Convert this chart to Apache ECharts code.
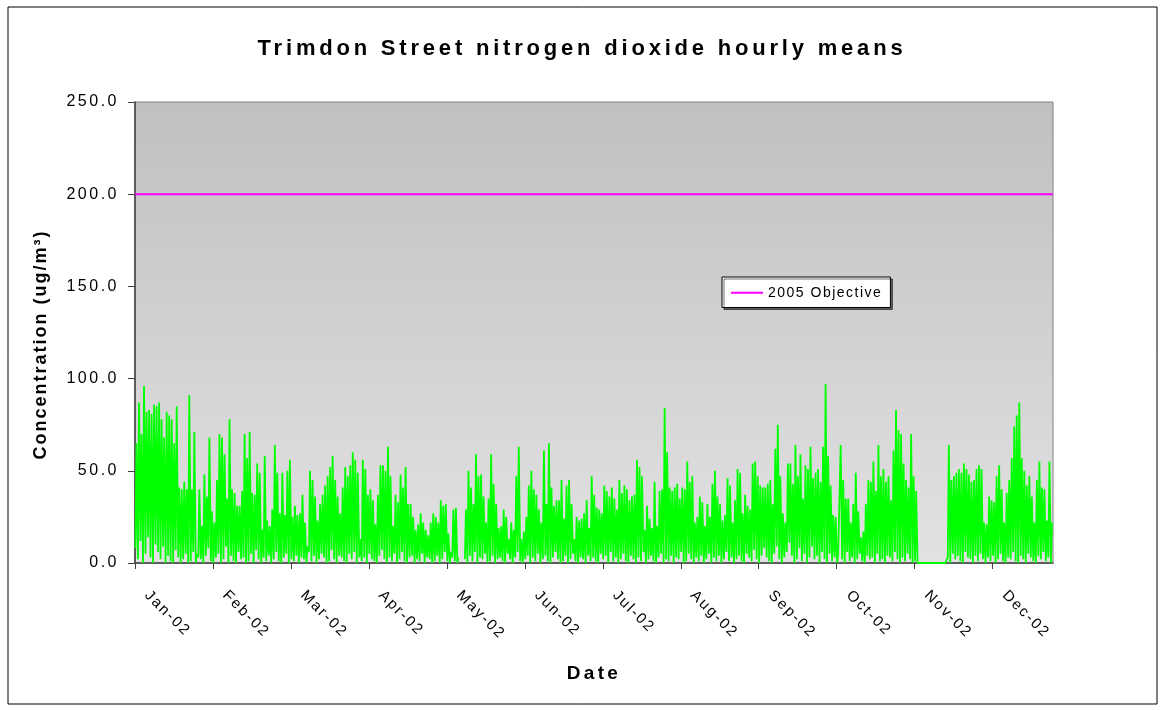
<!DOCTYPE html>
<html>
<head>
<meta charset="utf-8">
<script src="https://cdn.jsdelivr.net/npm/echarts@6/dist/echarts.min.js"></script>
<style>
  html, body { margin: 0; padding: 0; background: #fff; }
  #chart { width: 1164px; height: 710px; }
</style>
</head>
<body>
<div id="chart"></div>
<script>
// x axis labels, one every 31 days (744 hours) as in the source sheet
const tickLabels = ['Jan-02', 'Feb-02', 'Mar-02', 'Apr-02', 'May-02', 'Jun-02',
  'Jul-02', 'Aug-02', 'Sep-02', 'Oct-02', 'Nov-02', 'Dec-02'];
const hoursPerTick = 744;
const hoursInYear = 8760;
const objective = 200;

// daily highest hourly mean (ug/m3); null = no data
const dailyMax = [
  65, 87, 70, 96, 82, 83, 81, 86, 85, 87,
  78, 68, 82, 80, 78, 65, 85, 41, 40, 44,
  40, 91, 40, 71, 5, 40, 20, 48, 36, 68,
  28, 22, 45, 70, 68, 59, 35, 78, 40, 38,
  31, 31, 39, 70, 57, 71, 38, 37, 54, 49,
  18, 58, 23, 20, 29, 64, 49, 27, 49, 26,
  50, 56, 25, 31, 26, 27, 37, 22, 9, 50,
  45, 36, 23, 32, 37, 42, 47, 52, 58, 45,
  36, 27, 41, 52, 47, 53, 60, 56, 49, 13,
  56,
  51, 37, 40, 34, 21, 37, 53, 53, 50, 63,
  47, 20, 37, 33, 48, 41, 52, 32, 32, 25,
  18, 21, 27, 22, 18, 15, 22, 27, 25, 22,
  34, 31, 32, 16, 6, 29, 30, 3,
  null, null,
  29, 50, 41, 32, 59, 47, 48, 36, 22, 35,
  59, 43, 32, 19, 20, 29, 25, 13, 22, 18,
  47, 63, 13, 17, 25, 42, 50, 40, 37, 29,
  22, 61, 32, 65, 41, 31, 34, 34, 45, 24,
  42, 45, 32, 13, 25, 23, 24, 27, 34, 19,
  47,
  37, 30, 29, 27, 42, 39, 36, 41, 35, 29,
  45, 38, 42, 40, 34, 36, 37, 56, 52, 47,
  18, 31, 24, 19, 44, 20, 39, 40, 84, 60,
  41, 39, 41, 43, 35, 41, 40, 55, 44, 47,
  22, 25, 36, 33, 20, 32, 25, 43, 50, 36,
  32, 23, 26, 46, 42, 22, 34, 51, 49, 27,
  37, 31, 29, 54, 55, 47, 42, 41, 41, 43,
  45, 32, 62, 75, 47, 27, 22, 54, 54, 43,
  64, 47, 59, 35, 53, 51, 63, 46, 49, 51,
  44, 63,
  97, 58, 42, 26, 25, 5, 64, 45, 35, 35,
  22, 32, 49, 28, 14, 17, 32, 45, 44, 55,
  39, 64, 47, 51, 44, 47, 34, 61, 83, 72,
  70, 54, 45, 41, 70, 47, 39,
  0, 0, 0, 0, 0, 0, 0, 0, 0, 0, 0, 0,
  64, 45, 47, 49, 51, 49, 54, 51, 48, 44,
  45, 51, 53, 51, 22, 21, 36, 34, 33, 47,
  53, 40, 22, 38, 45, 57, 74, 80, 87, 57,
  50, 42, 47, 36, 22, 45, 55, 41, 40, 23,
  55, 22
];

// daily lowest hourly mean (ug/m3)
const dailyMin = [
  8, 2, 12, 0, 5, 14, 3, 0, 10, 6,
  2, 9, 0, 4, 1, 0, 7, 3, 0, 2,
  5, 0, 1, 6, 0, 3, 2, 0, 4, 8,
  1, 0, 3, 5, 0, 2, 9, 0, 4, 1,
  0, 6, 2, 3, 0, 1, 5, 0, 7, 2,
  0, 3, 1, 4, 0, 2, 6, 1, 0, 3,
  5, 0, 2, 1, 4, 0, 3, 2, 0, 6,
  1, 4, 0, 2, 5, 3, 0, 1, 7, 2,
  0, 4, 3, 1, 0, 5, 2, 6, 0, 3,
  1,
  3, 0, 5, 2, 1, 0, 4, 7, 2, 0,
  3, 1, 5, 0, 2, 6, 1, 0, 3, 4,
  0, 2, 1, 5, 0, 3, 2, 0, 1, 4,
  0, 2, 6, 1, 0, 3, 1, 0,
  null, null,
  2, 0, 4, 1, 6, 0, 3, 2, 5, 0,
  1, 4, 0, 2, 3, 1, 0, 5, 2, 0,
  3, 6, 1, 0, 2, 4, 0, 3, 1, 5,
  0, 2, 4, 1, 0, 3, 6, 2, 0, 1,
  4, 0, 2, 5, 1, 0, 3, 2, 0, 4,
  1,
  3, 1, 0, 5, 2, 4, 0, 6, 1, 3,
  0, 2, 5, 1, 0, 4, 2, 0, 3, 1,
  6, 0, 2, 4, 1, 0, 3, 5, 0, 2,
  1, 4, 0, 3, 2, 6, 0, 1, 5, 2,
  0, 3, 1, 4, 0, 2, 5, 0, 3, 1,
  4, 0, 2, 6, 1, 3, 0, 2, 4, 1,
  0, 5, 3, 1, 7, 2, 0, 4, 8, 3,
  1, 0, 5, 9, 2, 0, 3, 6, 11, 4,
  0, 2, 8, 1, 5, 0, 3, 9, 2, 4,
  0, 6,
  2, 0, 5, 1, 3, 0, 4, 2, 0, 6,
  1, 3, 0, 2, 5, 1, 0, 4, 2, 3,
  0, 5, 1, 2, 0, 4, 3, 1, 6, 2,
  0, 3, 1, 5, 2, 0, 1,
  0, 0, 0, 0, 0, 0, 0, 0, 0, 0, 0, 0,
  3, 0, 5, 2, 4, 1, 0, 6, 3, 2,
  0, 4, 1, 5, 2, 0, 3, 1, 4, 0,
  2, 5, 1, 0, 3, 2, 6, 1, 0, 4,
  2, 0, 5, 3, 1, 0, 4, 2, 6, 1,
  3, 0
];

// each day: low in the early hours, high in the afternoon
const hourly = [];
dailyMax.forEach((hi, d) => {
  const lo = dailyMin[d];
  hourly.push([d * 24 + 4, lo == null ? '-' : lo]);
  hourly.push([d * 24 + 14, hi == null ? '-' : hi]);
});

const tickHours = tickLabels.map((t, i) => i * hoursPerTick);

// the old spreadsheet spreads its letters out; mimic it per font size
const spacing = { b22: '3.8px', b19: '3.3px', b18: '2px', n16: '2.5px', n15: '2px', n14: '1.5px' };
const ctxProto = CanvasRenderingContext2D.prototype;
['fillText', 'measureText'].forEach(fn => {
  const orig = ctxProto[fn];
  ctxProto[fn] = function () {
    const m = /(\d+(\.\d+)?)px/.exec(this.font);
    const key = (/bold/.test(this.font) ? 'b' : 'n') + (m ? Math.round(m[1]) : '');
    this.letterSpacing = spacing[key] || '0px';
    return orig.apply(this, arguments);
  };
});

const chart = echarts.init(document.getElementById('chart'));
chart.setOption({
  animation: false,
  backgroundColor: '#fff',
  textStyle: { fontFamily: 'Liberation Sans, Arial, sans-serif', color: '#000' },
  title: {
    text: 'Trimdon Street nitrogen dioxide hourly means',
    left: 'center',
    top: 31,
    textStyle: { fontSize: 22, fontWeight: 'bold', color: '#000' }
  },
  legend: {
    data: ['2005 Objective'],
    left: 722,
    top: 277,
    icon: 'rect',
    itemWidth: 32,
    itemHeight: 2,
    itemGap: 6,
    padding: [8, 8, 7, 9],
    backgroundColor: '#fff',
    borderColor: '#000',
    borderWidth: 1,
    shadowColor: 'rgba(0,0,0,0.55)',
    shadowOffsetX: 2,
    shadowOffsetY: 2,
    shadowBlur: 0,
    textStyle: { fontSize: 14, color: '#000' }
  },
  grid: {
    left: 135,
    right: 111,
    top: 102,
    bottom: 147,
    show: true,
    borderColor: '#808080',
    borderWidth: 1,
    backgroundColor: new echarts.graphic.LinearGradient(0, 0, 0, 1, [
      { offset: 0, color: '#c0c0c0' },
      { offset: 1, color: '#e2e2e2' }
    ])
  },
  xAxis: {
    type: 'value',
    min: 0,
    max: hoursInYear,
    name: 'Date',
    nameLocation: 'middle',
    nameGap: 100,
    nameTextStyle: { fontSize: 19, fontWeight: 'bold', color: '#000' },
    axisLine: { lineStyle: { color: '#404040', width: 1.5 } },
    axisTick: { length: 6, customValues: tickHours, lineStyle: { color: '#404040' } },
    axisLabel: {
      customValues: tickHours,
      rotate: -45,
      margin: 18,
      padding: [0, 0, 0, 17],
      fontSize: 15,
      color: '#000',
      formatter: v => tickLabels[Math.round(v / hoursPerTick)] || ''
    },
    splitLine: { show: false }
  },
  yAxis: {
    type: 'value',
    min: 0,
    max: 250,
    interval: 50,
    name: 'Concentration (ug/m³)',
    nameLocation: 'middle',
    nameGap: 84,
    nameTextStyle: { fontSize: 18, fontWeight: 'bold', color: '#000', padding: [0, 24, 0, 0] },
    axisLine: { show: true, lineStyle: { color: '#404040', width: 1.5 } },
    axisTick: { show: true, length: 7, lineStyle: { color: '#404040' } },
    axisLabel: {
      margin: 16,
      fontSize: 16,
      color: '#000',
      formatter: v => v.toFixed(1)
    },
    splitLine: { show: false }
  },
  graphic: [{
    type: 'rect',
    shape: { x: 8, y: 7, width: 1149, height: 697 },
    style: { fill: null, stroke: '#000', lineWidth: 1 },
    silent: true
  }],
  series: [
    {
      name: 'NO2',
      type: 'line',
      data: hourly,
      symbol: 'none',
      sampling: false,
      lineStyle: { color: '#00ff00', width: 1.8 },
      itemStyle: { color: '#00ff00' },
      z: 2
    },
    {
      name: '2005 Objective',
      type: 'line',
      data: [[0, objective], [hoursInYear, objective]],
      symbol: 'none',
      lineStyle: { color: '#ff00ff', width: 2 },
      itemStyle: { color: '#ff00ff' },
      z: 3
    }
  ]
});
</script>
</body>
</html>
